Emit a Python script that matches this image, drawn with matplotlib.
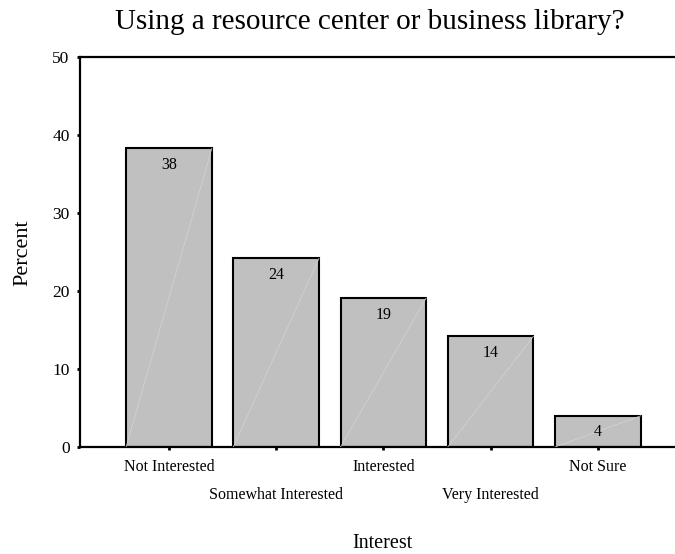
import matplotlib
matplotlib.use("Agg")
import matplotlib.pyplot as plt

# data
kategorier = ["Not Interested", "Somewhat Interested", "Interested", "Very Interested", "Not Sure"]
procent = [38.3, 24.2, 19.1, 14.2, 4.0]
etiketter = ["38", "24", "19", "14", "4"]

plt.rcParams['font.family'] = ['Liberation Serif', 'DejaVu Serif']

fig = plt.figure(figsize=(6.75, 5.54), dpi=100)
ax = fig.add_axes([80/675, 107/554, 595/675, 390/554])

x = list(range(len(kategorier)))
bredd = 0.8
ax.bar(x, procent, width=bredd, color="#c0c0c0", edgecolor="black", linewidth=1.5, zorder=2)

# svaga diagonala linjer i staplarna
for i, v in zip(x, procent):
    ax.plot([i - bredd/2, i + bredd/2], [0, v], color="#d4d4d4", linewidth=0.5, zorder=3)

for i, v, t in zip(x, procent, etiketter):
    ax.annotate(t, (i, v), xytext=(0, -12), textcoords="offset points",
                ha="center", va="center", fontsize=11.5, zorder=4)

ax.set_xlim(-0.83, 4.72)
ax.set_ylim(0, 50)

ax.spines['right'].set_visible(False)
for s in ['left', 'top', 'bottom']:
    ax.spines[s].set_linewidth(1.6)

ax.set_yticks([0, 10, 20, 30, 40, 50])
ax.tick_params(axis='y', length=2.5, width=2, pad=5, labelsize=12.5)

# etiketter i två rader
ax.set_xticks([0, 2, 4])
ax.set_xticklabels([kategorier[0], kategorier[2], kategorier[4]])
ax.set_xticks([1, 3], minor=True)
ax.set_xticklabels([kategorier[1], kategorier[3]], minor=True)
ax.tick_params(axis='x', which='major', length=2.5, width=2, pad=6, labelsize=11.5)
ax.tick_params(axis='x', which='minor', length=2.5, width=2, pad=26, labelsize=11.5)

ax.set_xlabel("Interest", fontsize=14.5)
ax.xaxis.set_label_coords(0.509, -0.222)
ax.set_ylabel("Percent", fontsize=16)
ax.yaxis.set_label_coords(-0.08, 0.497)

fig.text(370/675, 1 - 29/554, "Using a resource center or business library?",
         ha="center", va="baseline", fontsize=21)

fig.savefig("out.png", dpi=100)
